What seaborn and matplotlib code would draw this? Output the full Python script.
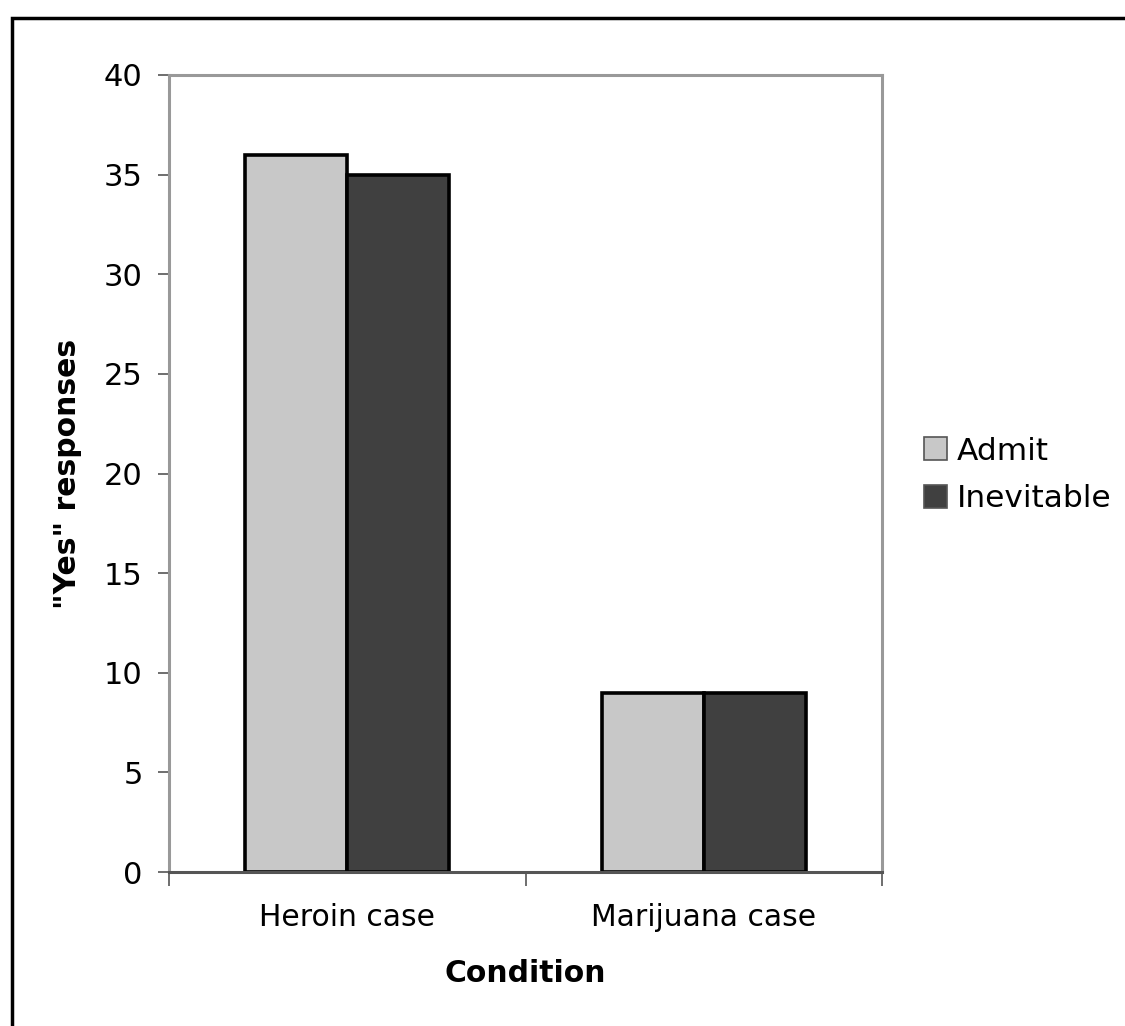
import pandas as pd
import numpy as np
import matplotlib
matplotlib.use('Agg')
import matplotlib.pyplot as plt
import matplotlib.patches as mpatches
import seaborn as sns

# Dane
conditions = ['Heroin case', 'Marijuana case']
admit = [36, 9]
inevitable = [35, 9]
series = ['Admit', 'Inevitable']
colors = {'Admit': '#c8c8c8', 'Inevitable': '#404040'}

df = pd.DataFrame({
    'Condition': conditions * 2,
    'Response': series[0:1] * 2 + series[1:2] * 2,
    'Yes': admit + inevitable,
})

sns.set_style('white')
plt.rcParams['font.family'] = ['DejaVu Sans']
plt.rcParams['text.color'] = 'black'
plt.rcParams['axes.labelcolor'] = 'black'
plt.rcParams['xtick.labelcolor'] = 'black'
plt.rcParams['ytick.labelcolor'] = 'black'

fig = plt.figure(figsize=(11.25, 10.26), dpi=100)
ax = fig.add_axes([169 / 1125, 1 - 872 / 1026, 713 / 1125, 797 / 1026])

sns.barplot(data=df, x='Condition', y='Yes', hue='Response', order=conditions,
            hue_order=series, palette=colors, width=0.572, ax=ax,
            edgecolor='black', linewidth=2.6, saturation=1, legend=False)

ax.set_xlim(-0.5, 1.5)
ax.set_ylim(0, 40)
ax.set_yticks(np.arange(0, 41, 5))
ax.tick_params(axis='y', labelsize=22, length=8, width=1.2, color='#555555',
               pad=11, left=True, direction='out')

ax.set_xticks([0, 1])
ax.set_xticklabels(conditions)
ax.set_xticks([-0.5, 0.5, 1.5], minor=True)
ax.tick_params(axis='x', which='major', length=0, labelsize=21.5, pad=22)
ax.tick_params(axis='x', which='minor', length=10, width=1.2, color='#555555',
               bottom=True, direction='out')

for side in ['left', 'top', 'right']:
    ax.spines[side].set_color('#999999')
    ax.spines[side].set_linewidth(2.2)
ax.spines['bottom'].set_color('#555555')
ax.spines['bottom'].set_linewidth(2.2)

ax.set_xlabel('Condition', fontsize=21.5, fontweight='bold', labelpad=20)
ax.set_ylabel('"Yes" responses', fontsize=21.5, fontweight='bold', labelpad=16)

handles = [mpatches.Patch(facecolor=colors[s], edgecolor='#555555', linewidth=1.2,
                          label=s) for s in series]
ax.legend(handles=handles, loc='center left', bbox_to_anchor=(924 / 1125, 1 - 475 / 1026),
          bbox_transform=fig.transFigure, frameon=False, fontsize=22.5,
          handlelength=0.75, handleheight=0.75, handletextpad=0.3, labelspacing=0.6,
          borderaxespad=0, borderpad=0)

# Ramka wokół wykresu
fig.patches.append(mpatches.Rectangle((12 / 1125, -0.05), 1.2, 1 - 18 / 1026 + 0.05,
                                      transform=fig.transFigure, fill=False,
                                      edgecolor='black', linewidth=2.5))

fig.savefig('out.png', dpi=100)
